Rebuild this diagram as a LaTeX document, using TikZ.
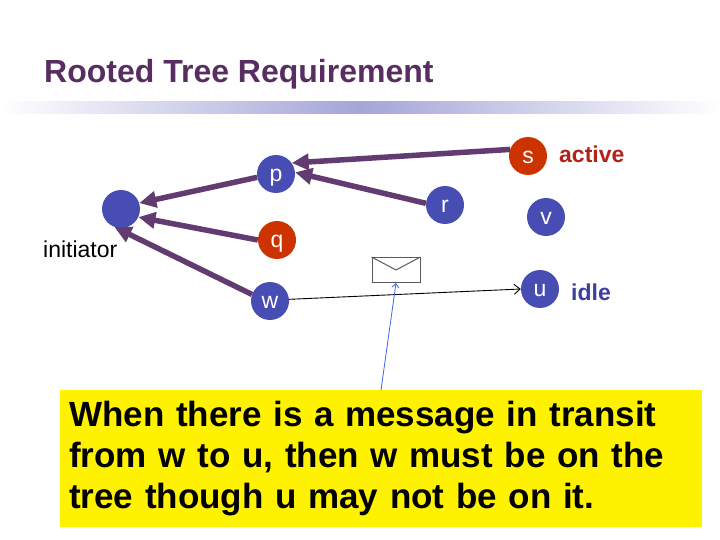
\documentclass[tikz,border=0pt]{standalone}
\usepackage{fontspec}
\setmainfont{Liberation Sans}
\usetikzlibrary{arrows.meta,calc}

\definecolor{titlecol}{RGB}{88,46,98}
\definecolor{barcol}{RGB}{165,165,216}
\definecolor{procblue}{RGB}{72,77,179}
\definecolor{procred}{RGB}{204,51,0}
\definecolor{edgecol}{RGB}{98,60,112}
\definecolor{activecol}{RGB}{178,34,24}
\definecolor{idlecol}{RGB}{62,62,160}
\definecolor{envgray}{RGB}{90,90,90}
\definecolor{callblue}{RGB}{58,102,232}

\begin{document}
\begin{tikzpicture}[x=1pt,y=-1pt,
        proc/.style={circle,fill=procblue,text=white,inner sep=0pt,
            minimum size=38pt,text height=15pt,text depth=0pt,
            font=\fontsize{23}{27}\selectfont},
        treeedge/.style={line width=5.5pt,draw=edgecol,
            -{Triangle[length=17pt,width=16pt]}}]
        \useasboundingbox (0,0) rectangle (720,540);
        % The title
        \node[anchor=base west,text=titlecol,inner sep=0pt,
            font=\bfseries\fontsize{32}{36}\selectfont]
            (title) at (44,83) {Rooted Tree Requirement};
        \shade[left color=white,right color=white,middle color=barcol]
            (0,102) rectangle (720,114);
        % The processes
        \node[proc] (init) at (121,209) {};
        \node[proc] (p) at (276,174) {p};
        \node[proc,fill=procred] (q) at (277,240) {q};
        \node[proc] (w) at (270,301) {w};
        \node[proc] (r) at (445,205) {r};
        \node[proc,fill=procred] (s) at (528,156) {s};
        \node[proc] (v) at (546,217) {v};
        \node[proc] (u) at (540,289) {u};
        % Their labels
        \node[anchor=base west,inner sep=0pt,font=\fontsize{23}{27}\selectfont]
            (initlabel) at (43,257) {initiator};
        \node[anchor=base west,inner sep=0pt,text=activecol,
            font=\bfseries\fontsize{23}{27}\selectfont]
            (activelabel) at (559,163) {active};
        \node[anchor=base west,inner sep=0pt,text=idlecol,
            font=\bfseries\fontsize{23}{27}\selectfont]
            (idlelabel) at (571,300) {idle};
        % The tree
        \draw[treeedge] (p.190) -- (init.18);
        \draw[treeedge] (q.180) -- (init.-25);
        \draw[treeedge] (w.160) -- (init.-110);
        \draw[treeedge] (r.175) -- (p.5);
        \draw[treeedge] (s.160) -- (p.35);
        % The message in transit
        \draw[line width=0.9pt,-{Straight Barb[length=6pt,width=10pt]}]
            (w.5) -- (u.west);
        \node[draw=envgray,line width=1pt,inner sep=0pt,
            minimum width=48pt,minimum height=25pt] (env) at (396,270) {};
        \draw[envgray,line width=1pt]
            (env.north west) -- (env.center) -- (env.north east);
        % The remark
        \node[fill=yellow,anchor=north west,minimum width=642pt,
            minimum height=137pt,text width=624pt,inner xsep=9pt,
            align=left,font=\bfseries\fontsize{35}{41}\selectfont]
            (remark) at (60,390)
            {When there is a message in transit\\
             from w to u, then w must be on the\\
             tree though u may not be on it.};
        \coordinate (callout) at ($(remark.north west)+(321,0)$);
        \draw[callblue,line width=0.8pt,-{Straight Barb[length=4pt,width=7pt]}]
            (callout) -- (env.south);
    \end{tikzpicture}
\end{document}
